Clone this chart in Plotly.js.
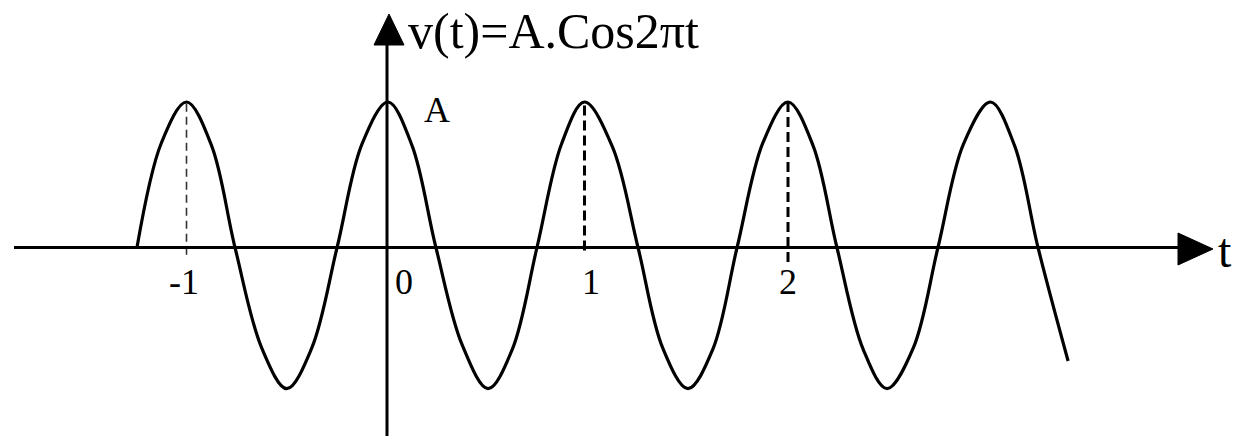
<!DOCTYPE html>
<html>
<head>
<meta charset="utf-8">
<script src="https://cdn.plot.ly/plotly-3.0.1.min.js"></script>
<style>
  html, body { margin: 0; padding: 0; background: #fff; }
  #chart { width: 1245px; height: 436px; }
</style>
</head>
<body>
<div id="chart"></div>
<script>
// ---- data ----
const tValues = [-1.247, -1.125, -1.0, -0.875, -0.758, -0.625, -0.5, -0.375, -0.249, -0.125,
                 0.005, 0.125, 0.244, 0.375, 0.504, 0.625, 0.748, 0.87, 0.985, 1.125,
                 1.252, 1.375, 1.501, 1.625, 1.746, 1.875, 2.0, 2.125, 2.244, 2.375,
                 2.494, 2.625, 2.748, 2.875, 3.01, 3.13, 3.247, 3.397];
const vValues = [0, 0.72, 1.0, 0.70, 0, -0.69, -0.97, -0.69, 0, 0.71,
                 1.0, 0.70, 0, -0.67, -0.97, -0.70, 0, 0.71, 1.0, 0.69,
                 0, -0.69, -0.97, -0.70, 0, 0.72, 1.0, 0.70, 0, -0.70,
                 -0.97, -0.69, 0, 0.71, 1.0, 0.70, 0, -0.78];

const tickValues = [-1, 0, 1, 2];
const tickLabels = ["-1", "0", "1", "2"];

const guideT = [-1, 0.985, 2];
const guideTop = [1.0, 1.0, 1.0];
const guideBottom = [-0.05, -0.02, -0.10];

const titleText = "v(t)=A.Cos2πt";
const axisLabel = "t";
const amplitudeLabel = "A";

// ---- layout helpers (pixel geometry of the page) ----
const W = 1245, H = 436;
const px = p => p / W;
const py = p => 1 - p / H;
const serif = "'Liberation Serif', 'Times New Roman', serif";

const guideStyles = [
  {color: '#333', width: 1.6, dash: '8px,5px'},
  {color: '#000', width: 3, dash: '10px,5px'},
  {color: '#000', width: 3, dash: '10px,5px'}
];
const labelShift = [-3, 17, 3, 0];

const shapes = [];
// x axis line + arrow
shapes.push({type: 'line', xref: 'paper', yref: 'y', x0: px(14), x1: px(1182), y0: 0, y1: 0,
  line: {color: '#000', width: 3}});
shapes.push({type: 'path', xref: 'paper', yref: 'paper',
  path: `M ${px(1178)},${py(233)} L ${px(1213)},${py(249)} L ${px(1178)},${py(265)} Z`,
  fillcolor: '#000', line: {color: '#000', width: 1}});
// y axis line + arrow
shapes.push({type: 'line', xref: 'x', yref: 'paper', x0: 0, x1: 0, y0: 0, y1: py(42),
  line: {color: '#000', width: 3}});
shapes.push({type: 'path', xref: 'paper', yref: 'paper',
  path: `M ${px(374)},${py(45)} L ${px(389)},${py(14)} L ${px(404)},${py(45)} Z`,
  fillcolor: '#000', line: {color: '#000', width: 1}});
// dashed guides
guideT.forEach((t, i) => {
  shapes.push({type: 'line', xref: 'x', yref: 'y', x0: t, x1: t, y0: guideBottom[i], y1: guideTop[i],
    line: guideStyles[i], layer: 'below'});
});

const annotations = [
  {text: titleText, xref: 'paper', yref: 'paper', x: px(406), y: py(31), xanchor: 'left', yanchor: 'middle',
   showarrow: false, font: {family: serif, size: 50, color: '#000'}},
  {text: axisLabel, xref: 'paper', yref: 'paper', x: px(1216), y: py(250), xanchor: 'left', yanchor: 'middle',
   showarrow: false, font: {family: serif, size: 48, color: '#000'}},
  {text: amplitudeLabel, xref: 'paper', yref: 'paper', x: px(422), y: py(110), xanchor: 'left', yanchor: 'middle',
   showarrow: false, font: {family: serif, size: 36, color: '#000'}}
];
tickValues.forEach((t, i) => {
  annotations.push({text: tickLabels[i], xref: 'x', yref: 'paper', x: t, xshift: labelShift[i],
    y: py(282), xanchor: 'center', yanchor: 'middle', showarrow: false,
    font: {family: serif, size: 36, color: '#000'}});
});

const trace = {
  x: tValues, y: vValues, type: 'scatter', mode: 'lines',
  line: {color: '#000', width: 3.2, shape: 'spline', smoothing: 1},
  hoverinfo: 'skip'
};

const layout = {
  width: W, height: H,
  margin: {l: 0, r: 0, t: 0, b: 0, pad: 0},
  paper_bgcolor: '#fff', plot_bgcolor: '#fff',
  showlegend: false,
  xaxis: {range: [-387 / 200.5, (W - 387) / 200.5], visible: false, fixedrange: true},
  yaxis: {range: [-(H - 247.5) / 145.5, 247.5 / 145.5], visible: false, fixedrange: true},
  shapes: shapes,
  annotations: annotations
};

Plotly.newPlot('chart', [trace], layout, {staticPlot: true, displayModeBar: false});
</script>
</body>
</html>
